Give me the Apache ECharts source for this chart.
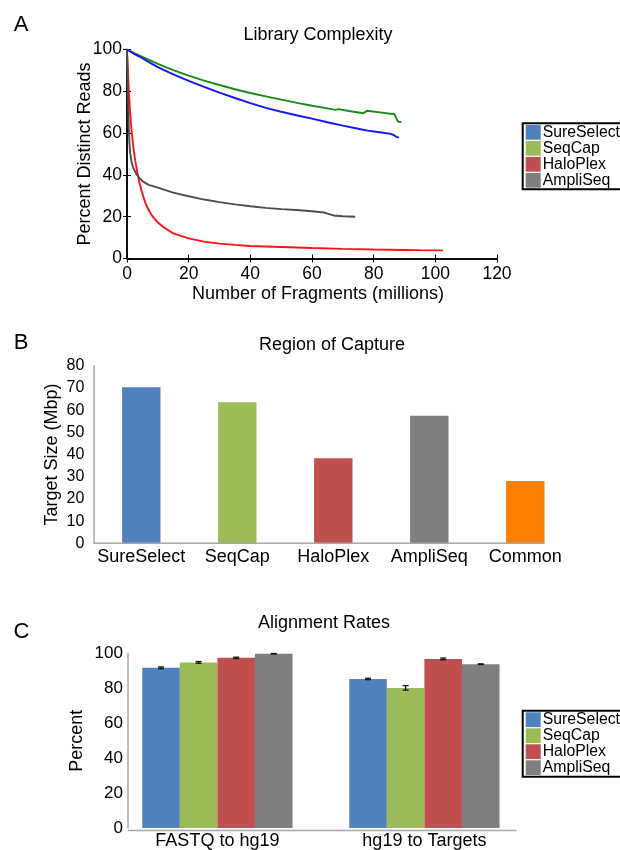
<!DOCTYPE html>
<html><head><meta charset="utf-8">
<script src="https://cdn.jsdelivr.net/npm/echarts@6/dist/echarts.min.js"></script>
<style>html,body{margin:0;padding:0;background:#fff}#c{width:620px;height:850px}</style>
</head><body><div id="c"></div>
<script>
const FONT = '"Liberation Sans", Arial, sans-serif';
const seriesNames = ['SureSelect', 'SeqCap', 'HaloPlex', 'AmpliSeq'];
const legendColors = ['#4f81bd', '#9bbb59', '#c0504d', '#7f7f7f'];
const lineColors = ['#1414ff', '#168c16', '#ff1414', '#4d4d4d'];

// ---- Panel A: Library Complexity ----
const sureSelectX = [0, 1, 2.5, 5, 7.5, 10, 15, 20, 25, 30, 35, 40, 45, 50, 56, 60, 65, 70, 75, 78, 82, 85.5, 86.5, 87.3, 88.2];
const sureSelectY = [100, 99.1, 97.8, 95.8, 93.6, 91.6, 88.1, 85.0, 82.1, 79.4, 76.8, 74.3, 72.1, 70.2, 68.2, 66.9, 65.2, 63.6, 62.1, 61.2, 60.4, 59.6, 59.1, 58.2, 57.8];
const seqCapX = [0, 2.5, 5, 10, 15, 20, 25, 30, 35, 40, 45, 50, 56, 60, 65, 67.6, 68.6, 72, 76.7, 77.8, 82, 86.7, 87.9, 89];
const seqCapY = [100, 98.2, 96.5, 93.1, 90.1, 87.5, 85.1, 83.0, 81.0, 79.2, 77.6, 76.0, 74.2, 73.1, 71.8, 71.1, 71.5, 70.6, 69.5, 70.7, 69.9, 69.0, 65.5, 65.2];
const haloPlexX = [0, 0.3, 0.6, 1, 1.5, 2, 2.5, 3, 3.5, 4, 5, 6, 7, 8, 10, 12, 15, 20, 25, 30, 35, 40, 50, 60, 70, 80, 90, 95, 102.5];
const haloPlexY = [100, 90, 80, 70, 61, 54, 48.5, 44, 40, 36.5, 31, 26.5, 23.2, 20.8, 17.2, 14.8, 12.0, 9.6, 8.1, 7.1, 6.5, 6.0, 5.5, 5.0, 4.6, 4.3, 4.1, 4.0, 3.9];
const ampliSeqX = [0, 0.2, 0.4, 0.6, 0.8, 1, 1.5, 2, 3, 4, 5, 7, 10, 15, 20, 25, 30, 35, 40, 45, 50, 55, 60, 64, 65, 67, 70, 74];
const ampliSeqY = [100, 85, 72, 62, 55, 51, 46, 43.5, 40.5, 38.5, 37, 35.2, 33.9, 31.5, 29.8, 28.2, 27.0, 25.9, 25.0, 24.2, 23.6, 23.2, 22.6, 22.0, 21.5, 20.6, 20.2, 20.0];
const complexityX = [sureSelectX, seqCapX, haloPlexX, ampliSeqX];
const complexityY = [sureSelectY, seqCapY, haloPlexY, ampliSeqY];

// ---- Panel B: Region of Capture ----
const captureCategories = ['SureSelect', 'SeqCap', 'HaloPlex', 'AmpliSeq', 'Common'];
const captureValues = [70.3, 63.5, 38.3, 57.5, 28.1];
const captureColors = ['#4f81bd', '#9bbb59', '#c0504d', '#7f7f7f', '#ff8000'];

// ---- Panel C: Alignment Rates ----
const alignCategories = ['FASTQ to hg19', 'hg19 to Targets'];
const alignValues = [
  [91.8, 85.4],   // SureSelect
  [94.9, 80.3],   // SeqCap
  [97.5, 96.9],   // HaloPlex
  [99.9, 93.9]    // AmpliSeq
];
const alignErrors = [
  [0.5, 0.4],
  [0.5, 1.3],
  [0.4, 0.5],
  [0.1, 0.15]
];

// layout
const GA = {left: 127, top: 49.5, width: 370, height: 209};
const GB = {left: 93.3, top: 365.7, width: 480, height: 177.6};
const GC = {left: 113.9, top: 653.5, width: 414, height: 177};
const C_GAP = 0.274;
const B_BAR = 0.4;
const AX_GRAY = '#a8a8a8';

const chart = echarts.init(document.getElementById('c'), null, {renderer: 'canvas'});

const lineSeries = seriesNames.map((n, i) => ({
  name: n, type: 'line', xAxisIndex: 0, yAxisIndex: 0,
  showSymbol: false, symbol: 'none', animation: false,
  lineStyle: {color: lineColors[i], width: 1.9},
  itemStyle: {color: lineColors[i]},
  data: complexityX[i].map((x, k) => [x, complexityY[i][k]]),
  z: 3 + (i === 0 ? 1 : 0)
}));

const alignSeries = seriesNames.map((n, i) => ({
  name: n, type: 'bar', xAxisIndex: 3, yAxisIndex: 3,
  barGap: '0%', barCategoryGap: (C_GAP * 100) + '%',
  itemStyle: {color: legendColors[i]},
  data: alignValues[i], animation: false
}));

const errData = [];
alignValues.forEach((vals, si) => vals.forEach((v, ci) => errData.push([ci, v, alignErrors[si][ci], si])));

const legendData = seriesNames.map((n, i) => ({name: n, icon: 'rect', itemStyle: {color: legendColors[i]}}));
const legendBase = {
  orient: 'vertical', left: 522.7, itemGap: 0, itemWidth: 15, itemHeight: 14.8,
  padding: [1, 3, 1, 3], borderColor: '#000', borderWidth: 2, backgroundColor: '#fff',
  selectedMode: false,
  textStyle: {fontFamily: FONT, fontSize: 15.8, color: '#000', lineHeight: 14.8, padding: [0, 0, 0, -3]},
  data: legendData
};

const axisNameStyle = {fontFamily: FONT, fontSize: 18, color: '#000'};
const tickLabelStyle = (sz, m) => ({fontFamily: FONT, fontSize: sz, color: '#000', margin: m});

function text(t, x, y, size) {
  return {type: 'text', x: x, y: y, style: {text: t, font: size + 'px ' + FONT, fill: '#000',
    textAlign: 'center', textVerticalAlign: 'middle', align: 'center', verticalAlign: 'middle'}};
}

const bBand = GB.width / captureCategories.length;
const graphics = [
  text('A', 21, 25, 22), text('B', 21, 343, 22), text('C', 21.5, 632, 22),
  text('Library Complexity', 318, 35, 18),
  text('Region of Capture', 332, 345.5, 18),
  text('Alignment Rates', 324, 623, 18),
  {type: 'line', shape: {x1: GB.left, y1: GB.top + GB.height, x2: GB.left + GB.width - bBand * (1 - B_BAR) / 2, y2: GB.top + GB.height},
   style: {stroke: AX_GRAY, lineWidth: 1.5}, z: 10},
  {type: 'line', shape: {x1: GC.left + 14, y1: GC.top + GC.height, x2: GC.left + GC.width - 11.2, y2: GC.top + GC.height},
   style: {stroke: AX_GRAY, lineWidth: 1.5}, z: 10}
];

const option = {
  animation: false,
  backgroundColor: '#fff',
  textStyle: {fontFamily: FONT},
  grid: [
    Object.assign({containLabel: false}, GA),
    Object.assign({containLabel: false}, GB),
    Object.assign({containLabel: false}, GC)
  ],
  legend: [
    Object.assign({}, legendBase, {top: 123.3}),
    Object.assign({}, legendBase, {top: 710.7})
  ],
  graphic: graphics,
  xAxis: [
    {type: 'value', gridIndex: 0, min: 0, max: 120, interval: 20,
     axisLine: {show: true, lineStyle: {color: '#000', width: 1.5}},
     axisTick: {show: true, inside: true, length: 4, lineStyle: {color: '#000'}},
     axisLabel: tickLabelStyle(17.5, 7), splitLine: {show: false},
     name: 'Number of Fragments (millions)', nameLocation: 'middle', nameGap: 27,
     nameTextStyle: Object.assign({padding: [0, 0, 0, 12]}, axisNameStyle)},
    {type: 'value', gridIndex: 0, position: 'top', min: 0, max: 120, interval: 20,
     axisLine: {show: true, lineStyle: {color: '#000', width: 1.5}},
     axisTick: {show: true, inside: true, length: 4, lineStyle: {color: '#000'}},
     axisLabel: {show: false}, splitLine: {show: false}},
    {type: 'category', gridIndex: 1, data: captureCategories,
     axisLine: {show: false}, axisTick: {show: false},
     axisLabel: Object.assign({interval: 0}, tickLabelStyle(18, 5))},
    {type: 'category', gridIndex: 2, data: alignCategories,
     axisLine: {show: false}, axisTick: {show: false},
     axisLabel: Object.assign({interval: 0}, tickLabelStyle(18, 4))}
  ],
  yAxis: [
    {type: 'value', gridIndex: 0, min: 0, max: 100, interval: 20,
     axisLine: {show: true, lineStyle: {color: '#000', width: 1.5}},
     axisTick: {show: true, inside: true, length: 4, lineStyle: {color: '#000'}},
     axisLabel: tickLabelStyle(17.5, 5), splitLine: {show: false},
     name: 'Percent Distinct Reads', nameLocation: 'middle', nameRotate: 90, nameGap: 33,
     nameMoveOverlap: false,
     nameTextStyle: axisNameStyle},
    {type: 'value', gridIndex: 0, position: 'right', min: 0, max: 100, interval: 20,
     axisLine: {show: true, lineStyle: {color: '#000', width: 1.5}},
     axisTick: {show: true, inside: true, length: 4, lineStyle: {color: '#000'}},
     axisLabel: {show: false}, splitLine: {show: false}},
    {type: 'value', gridIndex: 1, min: 0, max: 80, interval: 10,
     axisLine: {show: true, lineStyle: {color: AX_GRAY, width: 1.5}},
     axisTick: {show: false}, axisLabel: tickLabelStyle(16, 9), splitLine: {show: false},
     name: 'Target Size (Mbp)', nameLocation: 'middle', nameRotate: 90, nameGap: 32,
     nameMoveOverlap: false,
     nameTextStyle: axisNameStyle},
    {type: 'value', gridIndex: 2, min: 0, max: 100, interval: 20, offset: -14,
     axisLine: {show: true, lineStyle: {color: AX_GRAY, width: 1.5}},
     axisTick: {show: false}, axisLabel: tickLabelStyle(17, 5), splitLine: {show: false},
     name: 'Percent', nameLocation: 'middle', nameRotate: 90, nameGap: 42,
     nameMoveOverlap: false,
     nameTextStyle: axisNameStyle}
  ],
  series: [
    ...lineSeries,
    {name: 'Region of Capture', type: 'bar', xAxisIndex: 2, yAxisIndex: 2,
     barWidth: (B_BAR * 100) + '%',
     data: captureValues.map((v, i) => ({value: v, itemStyle: {color: captureColors[i]}}))},
    ...alignSeries,
    {name: 'error', type: 'custom', xAxisIndex: 3, yAxisIndex: 3, z: 5,
     data: errData,
     renderItem: function (params, api) {
       const cat = api.value(0), val = api.value(1), err = api.value(2), si = api.value(3);
       const band = api.size([1, 0])[0];
       const groupW = band * (1 - C_GAP), barW = groupW / seriesNames.length;
       const c = api.coord([cat, val]);
       const x = c[0] - groupW / 2 + barW * (si + 0.5);
       const top = api.coord([cat, val + err])[1];
       const bot = api.coord([cat, val - err])[1];
       const hw = 3, st = {stroke: '#111', lineWidth: 1.3};
       return {type: 'group', children: [
         {type: 'line', shape: {x1: x, y1: top, x2: x, y2: bot}, style: st},
         {type: 'line', shape: {x1: x - hw, y1: top, x2: x + hw, y2: top}, style: st},
         {type: 'line', shape: {x1: x - hw, y1: bot, x2: x + hw, y2: bot}, style: st}
       ]};
     }}
  ]
};
chart.setOption(option);
</script></body></html>
